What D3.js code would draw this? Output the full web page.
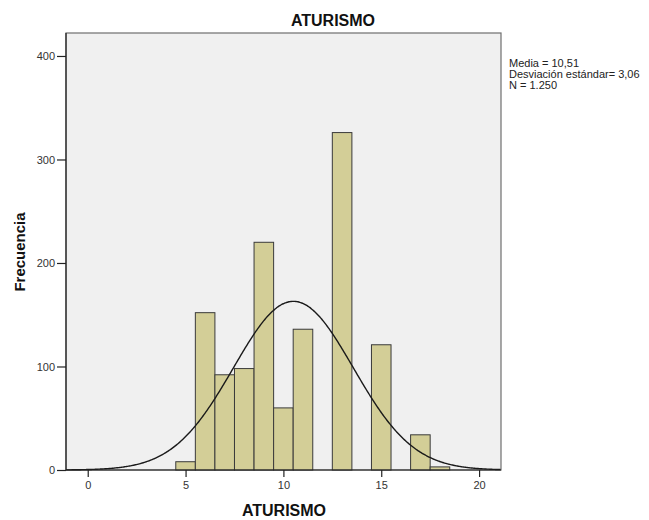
<!DOCTYPE html>
<html><head><meta charset="utf-8">
<script src="https://cdn.jsdelivr.net/npm/d3@7"></script>
<style>body{margin:0;background:#fff;} text{font-family:"Liberation Sans",Arial,sans-serif;}</style>
</head><body>
<svg id="c" width="649" height="520"></svg>
<script>
// Histogram data (bin centers, width 1)
const binCenters = [5, 6, 7, 8, 9, 10, 11, 13, 15, 17, 18];
const frequencies = [8, 152, 92, 98, 220, 60, 136, 326, 121, 34, 3];
const xTicks = [0, 5, 10, 15, 20];
const yTicks = [0, 100, 200, 300, 400];
const stats = { mean: 10.51, sd: 3.06, n: 1250 };
const statLabels = ["Media = 10,51", "Desviación estándar= 3,06", "N = 1.250"];
const title = "ATURISMO";
const xLabel = "ATURISMO";
const yLabel = "Frecuencia";

const svg = d3.select("#c");
const L = 66, R = 501, T = 33, B = 470;
const x = d3.scaleLinear().domain([-1.11, 21.12]).range([L, R]);
const y = d3.scaleLinear().domain([0, 422.2]).range([B, T]);

svg.append("rect").attr("x", L).attr("y", T).attr("width", R - L).attr("height", B - T)
  .attr("fill", "#f0f0f0").attr("stroke", "#6e6e6e").attr("stroke-width", 1.2);

const g = svg.append("g");
g.selectAll("rect.bar").data(binCenters).join("rect").attr("class", "bar")
  .attr("x", d => x(d - 0.5))
  .attr("width", d => x(d + 0.5) - x(d - 0.5))
  .attr("y", (d, i) => y(frequencies[i]))
  .attr("height", (d, i) => B - y(frequencies[i]))
  .attr("fill", "#d3ce97").attr("stroke", "#3a3a3a").attr("stroke-width", 1);

// normal curve from stats
const pts = d3.range(-1.11, 21.12, 0.05).map(v => [v,
  stats.n * 1 / (stats.sd * Math.sqrt(2 * Math.PI)) * Math.exp(-0.5 * Math.pow((v - stats.mean) / stats.sd, 2))]);
g.append("path").datum(pts)
  .attr("d", d3.line().x(d => x(d[0])).y(d => y(d[1])).curve(d3.curveBasis))
  .attr("fill", "none").attr("stroke", "#1a1a1a").attr("stroke-width", 1.4);

// axes
const xa = svg.append("g").attr("transform", `translate(0,${B})`)
  .call(d3.axisBottom(x).tickValues(xTicks).tickSize(7).tickPadding(4).tickSizeOuter(0));
const ya = svg.append("g").attr("transform", `translate(${L},0)`)
  .call(d3.axisLeft(y).tickValues(yTicks).tickSize(9).tickPadding(2).tickSizeOuter(0));
[xa, ya].forEach(a => {
  a.select(".domain").attr("stroke", "#222").attr("stroke-width", 1.2);
  a.selectAll(".tick line").attr("stroke", "#222").attr("stroke-width", 1.2);
  a.selectAll(".tick text").attr("fill", "#333").style("font-size", "11px")
   .style("font-family", "Liberation Sans, Arial, sans-serif");
});
ya.select(".domain").attr("d", `M0,${T}V${B}`);
xa.select(".domain").attr("d", `M${L},0H${R}`);

svg.append("text").attr("x", 333).attr("y", 26).attr("text-anchor", "middle")
  .style("font-size", "16px").style("font-weight", "bold").attr("fill", "#111").text(title);
svg.append("text").attr("x", 284).attr("y", 516).attr("text-anchor", "middle")
  .style("font-size", "16px").style("font-weight", "bold").attr("fill", "#111").text(xLabel);
svg.append("text").attr("transform", "translate(25,252) rotate(-90)").attr("text-anchor", "middle")
  .style("font-size", "15px").style("font-weight", "bold").attr("fill", "#111").text(yLabel);

svg.selectAll("text.stat").data(statLabels).join("text").attr("class", "stat")
  .attr("x", 509).attr("y", (d, i) => 67 + i * 11)
  .style("font-size", "11px").attr("fill", "#222").text(d => d);
</script>
</body></html>
